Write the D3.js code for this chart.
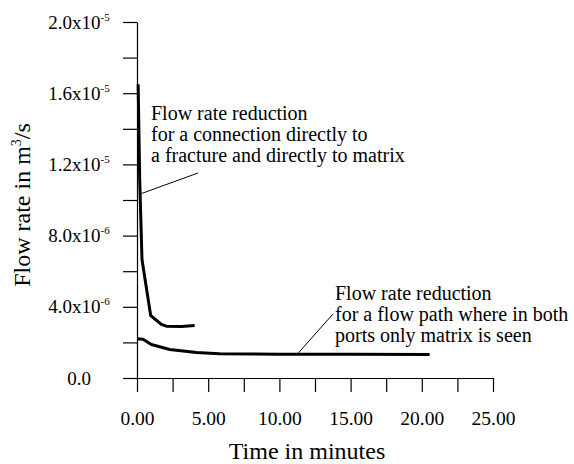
<!DOCTYPE html>
<html>
<head>
<meta charset="utf-8">
<script src="https://cdn.jsdelivr.net/npm/d3@7"></script>
<style>
  body { margin: 0; background: #fff; }
  svg text { font-family: "Liberation Serif", "Times New Roman", serif; fill: #000; }
</style>
</head>
<body>
<script>
var width = 574, height = 464;

// data (time in minutes, flow rate in units of 1e-6 m3/s)
var fractureTime = [0.08, 0.19, 0.35, 0.96, 1.71, 2.06, 3.12, 4.05];
var fractureFlow = [16.5, 11.15, 6.66, 3.51, 3.01, 2.91, 2.89, 2.95];
var matrixTime = [0.0, 0.42, 1.01, 2.30, 4.17, 5.81, 10.02, 15.0, 20.55];
var matrixFlow = [2.21, 2.18, 1.88, 1.60, 1.43, 1.36, 1.34, 1.33, 1.32];

var xTicks = [0, 2.5, 5, 7.5, 10, 12.5, 15, 17.5, 20, 22.5, 25];
var xTickLabels = ["0.00", "", "5.00", "", "10.00", "", "15.00", "", "20.00", "", "25.00"];
var yTicks = [0, 2, 4, 6, 8, 10, 12, 14, 16, 18, 20];
var yTickMant = ["0.0", "", "4.0x10", "", "8.0x10", "", "1.2x10", "", "1.6x10", "", "2.0x10"];
var yTickExp = ["", "", "-6", "", "-6", "", "-5", "", "-5", "", "-5"];

var note1 = ["Flow rate reduction", "for a connection directly to", "a fracture and directly to matrix"];
var note2 = ["Flow rate reduction", "for a flow path where in both", "ports only matrix is seen"];

var svg = d3.select("body").append("svg").attr("width", width).attr("height", height);

var x = d3.scaleLinear().domain([0, 25]).range([137, 493]);
var y = d3.scaleLinear().domain([0, 20]).range([378, 22]);

// x axis
var gx = svg.append("g").attr("transform", "translate(0," + y(0) + ")")
  .call(d3.axisBottom(x).tickValues(xTicks).tickSize(14).tickSizeOuter(0).tickPadding(19)
    .tickFormat(function(d, i){ return xTickLabels[i]; }));
gx.attr("font-family", null);
gx.selectAll("text").attr("font-size", "19.5px");

// y axis, labels built by hand for the superscripts
var gy = svg.append("g").attr("transform", "translate(" + x(0) + ",0)")
  .call(d3.axisLeft(y).tickValues(yTicks).tickSize(14).tickSizeOuter(0).tickFormat(""));
gy.attr("font-family", null);
gy.selectAll(".tick").each(function(d, i){
  if (!yTickMant[i]) return;
  var t = d3.select(this).append("text")
    .attr("x", -58).attr("dy", "0.32em")
    .attr("text-anchor", "middle")
    .attr("font-size", "19px");
  t.append("tspan").text(yTickMant[i]);
  if (yTickExp[i]) t.append("tspan").attr("font-size", "11px").attr("dy", "-8").text(yTickExp[i]);
});
svg.selectAll(".domain, .tick line").attr("stroke", "#000").attr("stroke-width", 1.2);

// curves
var line = d3.line().x(function(d){ return x(d[0]); }).y(function(d){ return y(d[1]); });
svg.append("path").datum(d3.zip(fractureTime, fractureFlow))
  .attr("d", line).attr("fill", "none").attr("stroke", "#000").attr("stroke-width", 3).attr("stroke-linejoin", "round");
svg.append("path").datum(d3.zip(matrixTime, matrixFlow))
  .attr("d", line).attr("fill", "none").attr("stroke", "#000").attr("stroke-width", 3).attr("stroke-linejoin", "round");

// annotations
function note(lines, left, base){
  var t = svg.append("text").attr("font-size", "20px");
  lines.forEach(function(s, i){
    t.append("tspan").attr("x", left).attr("y", base + i * 21).text(s);
  });
}
note(note1, 151, 120);
note(note2, 335, 300);

svg.append("line").attr("x1", 141.5).attr("y1", 193.5).attr("x2", 198).attr("y2", 173)
  .attr("stroke", "#000").attr("stroke-width", 1);
svg.append("line").attr("x1", 296.5).attr("y1", 355).attr("x2", 333).attr("y2", 314)
  .attr("stroke", "#000").attr("stroke-width", 1);

// axis titles
svg.append("text").attr("x", 307).attr("y", 459).attr("text-anchor", "middle")
  .attr("font-size", "24px").text("Time in minutes");
var yt = svg.append("text").attr("transform", "translate(30,205) rotate(-90)")
  .attr("text-anchor", "middle").attr("font-size", "24px");
yt.append("tspan").text("Flow rate in m");
yt.append("tspan").attr("font-size", "14px").attr("dy", "-9").text("3");
yt.append("tspan").attr("dy", "9").text("/s");
</script>
</body>
</html>
